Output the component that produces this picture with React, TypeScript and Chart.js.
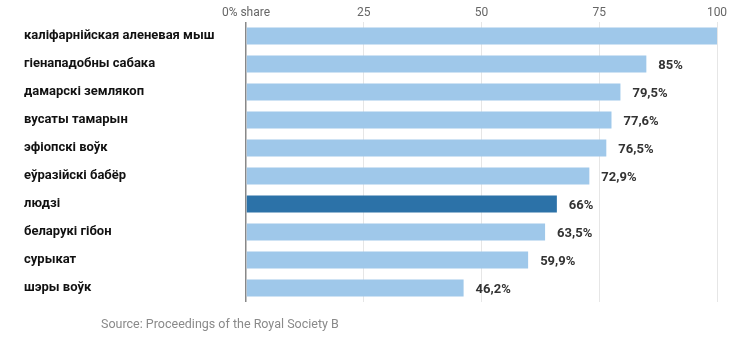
import React, { useEffect, useRef } from "react";
import { Chart, registerables } from "chart.js";

Chart.register(...registerables);

const categories = [
  "каліфарнійская аленевая мыш",
  "гіенападобны сабака",
  "дамарскі землякоп",
  "вусаты тамарын",
  "эфіопскі воўк",
  "еўразійскі бабёр",
  "людзі",
  "беларукі гібон",
  "сурыкат",
  "шэры воўк",
];
const values = [100, 85, 79.5, 77.6, 76.5, 72.9, 66, 63.5, 59.9, 46.2];
const highlight = "людзі";
const xTicks = [0, 25, 50, 75, 100];
const sourceText = "Source: Proceedings of the Royal Society B";

const LIGHT = "#9fc8ea";
const DARK = "#2c72a8";

const valueLabels = {
  id: "valueLabels",
  afterDatasetsDraw(chart: any) {
    const ctx = chart.ctx;
    const meta = chart.getDatasetMeta(0);
    ctx.save();
    ctx.font = "bold 13px Roboto";
    ctx.fillStyle = "#333";
    ctx.textAlign = "left";
    ctx.textBaseline = "middle";
    meta.data.forEach((bar: any, i: number) => {
      const v = values[i];
      if (v >= 100) return;
      const txt = String(v).replace(".", ",") + "%";
      ctx.fillText(txt, bar.x + 12, bar.y + 2);
    });
    ctx.restore();
  },
};

export default function App() {
  const ref = useRef<HTMLCanvasElement>(null);
  useEffect(() => {
    if (!ref.current) return;
    const chart = new Chart(ref.current, {
      type: "bar",
      data: {
        labels: categories,
        datasets: [
          {
            data: values,
            backgroundColor: categories.map((c) => (c === highlight ? DARK : LIGHT)),
            barPercentage: 0.6,
            categoryPercentage: 1,
          },
        ],
      },
      options: {
        indexAxis: "y",
        responsive: false,
        animation: false,
        layout: { padding: { left: 24, right: 15, top: 0, bottom: 45 } },
        plugins: { legend: { display: false }, tooltip: { enabled: false } },
        scales: {
          x: {
            position: "top",
            min: 0,
            max: 100,
            afterBuildTicks: (s: any) => {
              s.ticks = xTicks.map((v) => ({ value: v }));
            },
            afterFit: (s: any) => {
              s.height = 22;
            },
            ticks: {
              padding: 2,
              color: "#666",
              font: { family: "Roboto", size: 12 },
              callback: (v: any) => (v === 0 ? "0% share" : String(v)),
            },
            grid: {
              drawTicks: false,
              color: (c: any) => (c.tick && c.tick.value === 0 ? "#888" : "#e6e6e6"),
              lineWidth: (c: any) => (c.tick && c.tick.value === 0 ? 1.5 : 1),
            },
            border: { display: false },
          },
          y: {
            afterFit: (s: any) => {
              s.width = 222;
            },
            ticks: {
              crossAlign: "far",
              color: "#111",
              font: { family: "Roboto", size: 13, weight: "bold" },
            },
            grid: { display: false },
            border: { display: false },
          },
        },
      },
      plugins: [valueLabels],
    });
    return () => chart.destroy();
  }, []);
  return (
    <div style={{ position: "fixed", left: 0, top: 0, width: 732, height: 347, background: "#fff" }}>
      <canvas ref={ref} width={732} height={347} style={{ display: "block" }} />
      <div
        style={{
          position: "absolute",
          left: 101,
          top: 316,
          fontFamily: "Roboto",
          fontSize: 12.5,
          color: "#8a8a8a",
          whiteSpace: "nowrap",
        }}
      >
        {sourceText}
      </div>
    </div>
  );
}
